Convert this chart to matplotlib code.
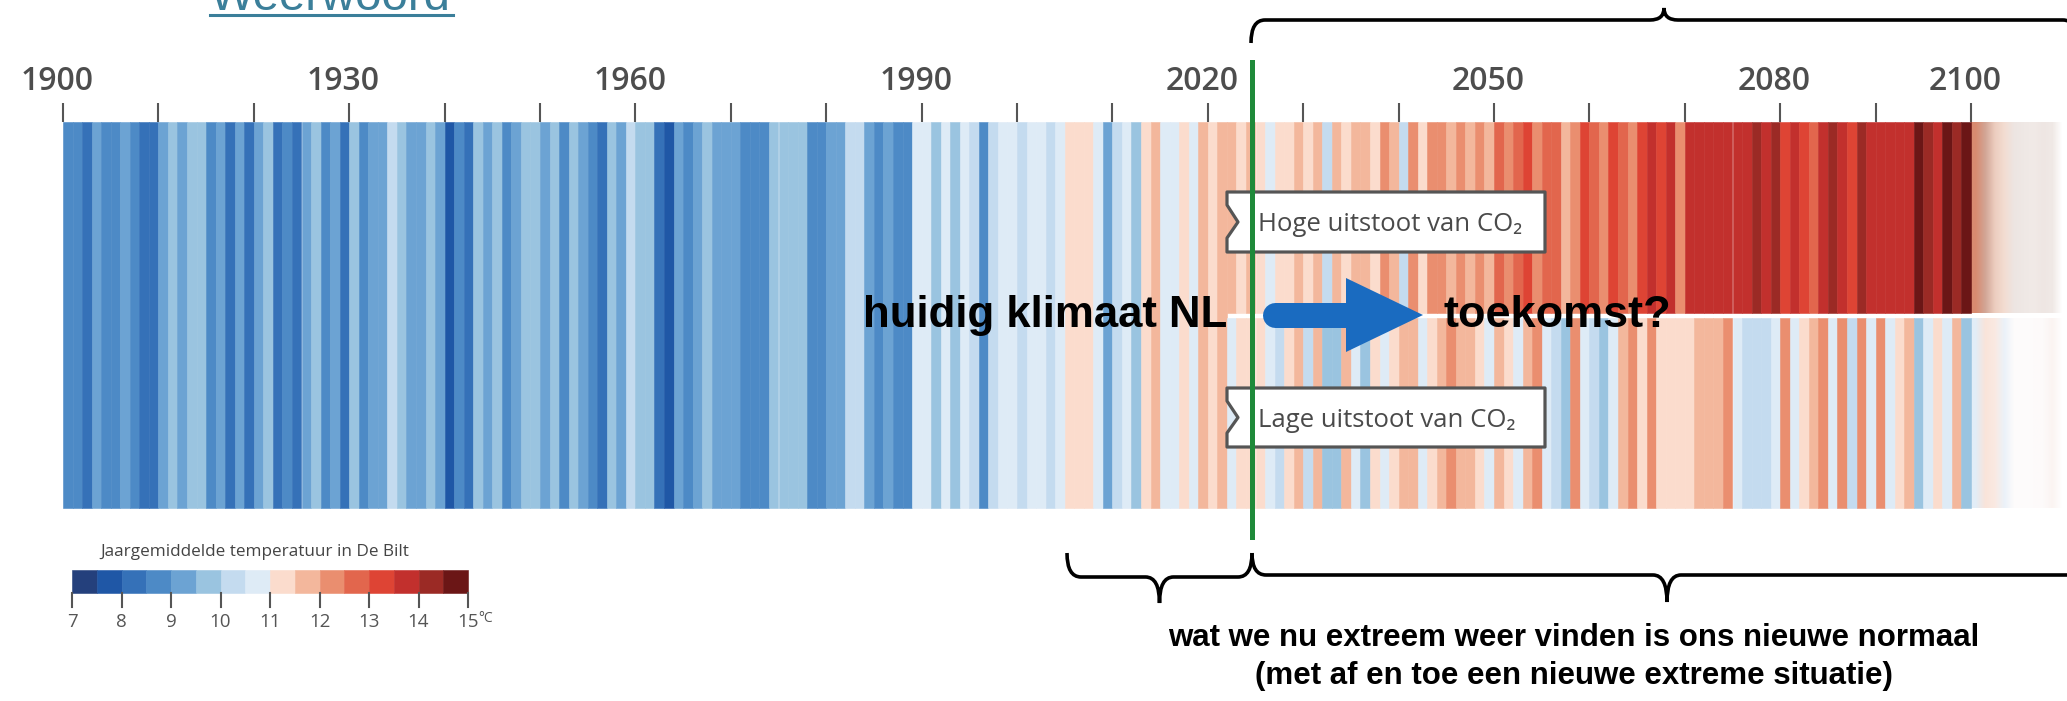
import numpy as np
import matplotlib.pyplot as plt
from matplotlib.colors import ListedColormap, BoundaryNorm, to_rgba_array
from matplotlib.path import Path
from matplotlib.patches import PathPatch, Polygon

W, H = 2067, 701

# colour scale of the legend (annual mean temperature De Bilt, 0.5 degree steps)
legend_colors = ["#24407c", "#1f57a6", "#3571b8", "#4d8ac6", "#6ca3d3", "#9ac4e0",
                 "#c4dbef", "#deebf6", "#fbdccd", "#f3b79c", "#ea8e6f", "#e2664d",
                 "#de4434", "#c2302d", "#9b2a25", "#6b1616"]
legend_bounds = np.arange(7, 15.01, 0.5)
legend_ticks = [7, 8, 9, 10, 11, 12, 13, 14, 15]

# measured years 1900-2021
hist_start = 1900
hist_temp = [
    8.8, 8.8, 8.3, 9.3, 8.8, 8.8, 9.3, 8.8, 8.3, 8.3,
    9.3, 9.8, 9.3, 9.8, 9.8, 8.8, 9.3, 8.3, 9.3, 8.3,
    9.3, 9.8, 8.3, 8.8, 8.3, 9.3, 9.8, 8.8, 9.3, 8.3,
    9.8, 8.8, 9.3, 9.3, 10.3, 9.8, 9.3, 9.3, 9.8, 9.3,
    7.8, 8.8, 8.3, 9.8, 9.3, 9.8, 8.8, 9.3, 9.8, 9.8,
    9.3, 9.8, 8.8, 9.8, 9.3, 8.8, 8.3, 9.8, 9.3, 10.3,
    9.8, 9.8, 8.3, 7.8, 9.3, 8.8, 9.3, 9.8, 9.3, 9.3,
    9.3, 8.8, 8.8, 8.8, 9.8, 9.8, 9.8, 9.8, 8.8, 8.8,
    9.3, 9.3, 10.3, 10.3, 9.3, 8.8, 9.3, 8.8, 8.8, 10.8,
    10.8, 9.8, 10.8, 9.8, 10.8, 10.3, 8.8, 10.3, 10.8, 10.8,
    10.3, 10.8, 10.8, 10.3, 10.8, 11.3, 11.3, 11.3, 10.8, 9.3,
    10.3, 10.8, 9.8, 11.3, 11.8, 10.8, 10.8, 11.3, 10.8, 11.8,
    11.3, 11.8,
]

# scenarios 2022-2099
future_start = 2022
high_temp = [
    11.8, 11.3, 11.8, 11.3, 10.8, 11.3, 11.3, 11.8, 11.3, 11.8,
    10.3, 11.8, 11.3, 11.8, 11.8, 11.3, 12.3, 11.8, 10.3, 12.3,
    11.3, 12.3, 12.3, 11.8, 12.3, 11.8, 12.3, 11.8, 12.8, 12.3,
    12.8, 13.3, 12.3, 12.8, 12.8, 11.8, 12.3, 13.3, 12.8, 12.3,
    13.3, 12.8, 12.3, 13.3, 13.8, 13.3, 13.8, 12.3, 13.8, 13.8,
    13.8, 13.8, 13.8, 13.8, 13.8, 14.3, 13.8, 14.3, 13.3, 13.8,
    13.3, 12.8, 13.8, 14.3, 13.8, 13.3, 14.3, 13.8, 13.8, 13.8,
    13.8, 13.8, 14.8, 14.3, 13.8, 14.8, 14.3, 14.8,
]
low_temp = [
    10.8, 11.3, 11.3, 11.3, 10.8, 10.3, 11.3, 11.8, 10.3, 11.8,
    9.8, 9.8, 11.8, 10.8, 9.8, 11.3, 10.8, 11.3, 11.8, 11.8,
    10.8, 11.3, 11.8, 12.3, 11.8, 11.8, 11.3, 10.8, 11.8, 11.3,
    10.8, 11.8, 12.3, 10.8, 10.3, 9.8, 12.3, 10.8, 10.3, 9.8,
    10.8, 11.8, 12.3, 11.3, 12.3, 11.3, 11.3, 11.3, 11.3, 11.8,
    11.8, 11.8, 12.3, 10.8, 10.3, 10.3, 10.3, 10.8, 12.3, 10.8,
    11.3, 11.8, 12.3, 10.8, 12.3, 10.3, 12.3, 10.8, 12.3, 10.8,
    11.3, 11.8, 9.8, 10.8, 11.3, 10.8, 11.8, 9.8,
]

# fading tail after 2100 (one colour per year)
fade_high = ["#d88a70", "#d2a696", "#eccdbf", "#f3ddd2", "#ede5e2",
             "#efe8e5", "#f1eae7", "#eee6e3", "#f0e9e6", "#ffffff"]
fade_low = ["#e2edf7", "#f9e4da", "#fae9e2", "#ebf2f9", "#fdfbfb",
            "#fefcfc", "#fdfbfb", "#fdfafa", "#fbf4f2", "#ffffff"]

tick_years = list(range(1900, 2101, 10))
label_years = [1900, 1930, 1960, 1990, 2020, 2050, 2080, 2100]

cmap = ListedColormap(legend_colors)
norm = BoundaryNorm(legend_bounds, cmap.N)

fig = plt.figure(figsize=(W / 100, H / 100), dpi=100)

# stripes axis: x in years, y in pixels
ax = fig.add_axes([0, 0, 1, 1])
ax.axis("off")

px_per_year = 9.54
top, mid_a, mid_b, bot = 122, 313, 318, 508

hist_years = np.arange(hist_start, hist_start + len(hist_temp))
fut_years = np.arange(future_start, future_start + len(high_temp))

c = cmap(norm(hist_temp))
ax.bar(hist_years, bot - top, bottom=top, width=1, align="edge", color=c,
       edgecolor=c, linewidth=0.4)
c = cmap(norm(high_temp))
ax.bar(fut_years, mid_a - top, bottom=top, width=1, align="edge", color=c,
       edgecolor=c, linewidth=0.4)
c = cmap(norm(low_temp))
ax.bar(fut_years, bot - mid_b, bottom=mid_b, width=1, align="edge", color=c,
       edgecolor=c, linewidth=0.4)

end = future_start + len(high_temp)
ax.imshow(to_rgba_array(fade_high)[None], extent=[end, end + len(fade_high), mid_a, top],
          aspect="auto", interpolation="bilinear")
ax.imshow(to_rgba_array(fade_low)[None], extent=[end, end + len(fade_low), bot, mid_b],
          aspect="auto", interpolation="bilinear")

ax.vlines(tick_years, 103, top, color="#555555", lw=1.5)
for y in label_years:
    ax.text(y - 0.6, 82, str(y), ha="center", va="center", fontsize=23,
            color="#4d4d4d", fontweight="semibold", family=["Open Sans", "DejaVu Sans"])

ax.set_xlim(1900 - 63 / px_per_year, 1900 + (W - 63) / px_per_year)
ax.set_ylim(H, 0)

# overlay in pixel coordinates
ov = fig.add_axes([0, 0, 1, 1])
ov.set_xlim(0, W)
ov.set_ylim(H, 0)
ov.axis("off")


def brace(x0, x1, y, y_end, y_tip, r=14):
    xm = (x0 + x1) / 2
    verts = [(x0, y_end), (x0, y), (x0 + r, y), (xm - r, y), (xm, y), (xm, y_tip),
             (xm, y), (xm + r, y), (x1 - r, y), (x1, y), (x1, y_end)]
    codes = [Path.MOVETO, Path.CURVE3, Path.CURVE3, Path.LINETO, Path.CURVE3, Path.CURVE3,
             Path.CURVE3, Path.CURVE3, Path.LINETO, Path.CURVE3, Path.CURVE3]
    ov.add_patch(PathPatch(Path(verts, codes), fc="none", ec="black", lw=2.6))


def label_box(y0, y1, text, baseline):
    x0, x1 = 1227, 1545
    ym = (y0 + y1) / 2
    verts = [(x0, y0), (x1, y0), (x1, y1), (x0, y1), (x0, y1 - 14),
             (x0 + 11, ym), (x0, y0 + 13), (x0, y0)]
    ov.add_patch(Polygon(verts, closed=True, fc="white", ec="#555555", lw=2.3,
                         joinstyle="round"))
    ov.text(1258, baseline, text, ha="left", va="baseline", fontsize=18.5,
            color="#4a4a4a", family=["Open Sans", "DejaVu Sans"])


brace(1251, 2077, 20, 43, 8)
brace(1067, 1252, 577, 553, 603)
brace(1252, 2082, 575, 553, 602)

label_box(192, 252, "Hoge uitstoot van CO₂", 231)
label_box(388, 447, "Lage uitstoot van CO₂", 427)

bold = ["Liberation Sans", "DejaVu Sans"]
ov.text(1227, 327, "huidig klimaat NL", ha="right", va="baseline", fontsize=31.5,
        fontweight="bold", family=bold, color="black")
ov.text(1444, 327, "toekomst?", ha="left", va="baseline", fontsize=32.5,
        fontweight="bold", family=bold, color="black")

# blue arrow
ov.plot([1275, 1350], [315, 315], color="#1a6bc0", lw=18, solid_capstyle="round")
ov.add_patch(Polygon([(1346, 278), (1423, 315), (1346, 352)], closed=True,
                     fc="#1a6bc0", ec="none"))

ov.text(1574, 646, "wat we nu extreem weer vinden is ons nieuwe normaal", ha="center",
        va="baseline", fontsize=22.5, fontweight="bold", family=bold, color="black")
ov.text(1574, 684, "(met af en toe een nieuwe extreme situatie)", ha="center",
        va="baseline", fontsize=22.5, fontweight="bold", family=bold, color="black")

# legend
box_w = (468 - 72) / len(legend_colors)
ov.bar(72 + box_w * np.arange(len(legend_colors)), 23, bottom=570, width=box_w,
       align="edge", color=legend_colors, edgecolor=legend_colors, linewidth=0.4)
for t in legend_ticks:
    x = 72 + 2 * box_w * (t - 7)
    ov.plot([x, x], [593, 607], color="#555555", lw=1.5)
    ov.text(x, 622, str(t), ha="center", va="center", fontsize=13.5, color="#555555",
            family=["Open Sans", "DejaVu Sans"])
ov.text(478, 618, "°C", ha="left", va="center", fontsize=10, color="#555555",
        family=["Open Sans", "DejaVu Sans"])
ov.text(100, 552, "Jaargemiddelde temperatuur in De Bilt", ha="left", va="center",
        fontsize=12.3, color="#444444", family=["Open Sans", "DejaVu Sans"])

# link text cut off at the top
ov.text(210, 10, "Weerwoord", ha="left", va="baseline", fontsize=34, color="#3b7f9a",
        family=["Liberation Sans", "DejaVu Sans"])
ov.plot([210, 453], [15, 15], color="#3b7f9a", lw=2.2)

# green divider
ov.plot([1252, 1252], [62, 537], color="#1f8a3a", lw=3.6)

fig.savefig("out.png", dpi=100)
